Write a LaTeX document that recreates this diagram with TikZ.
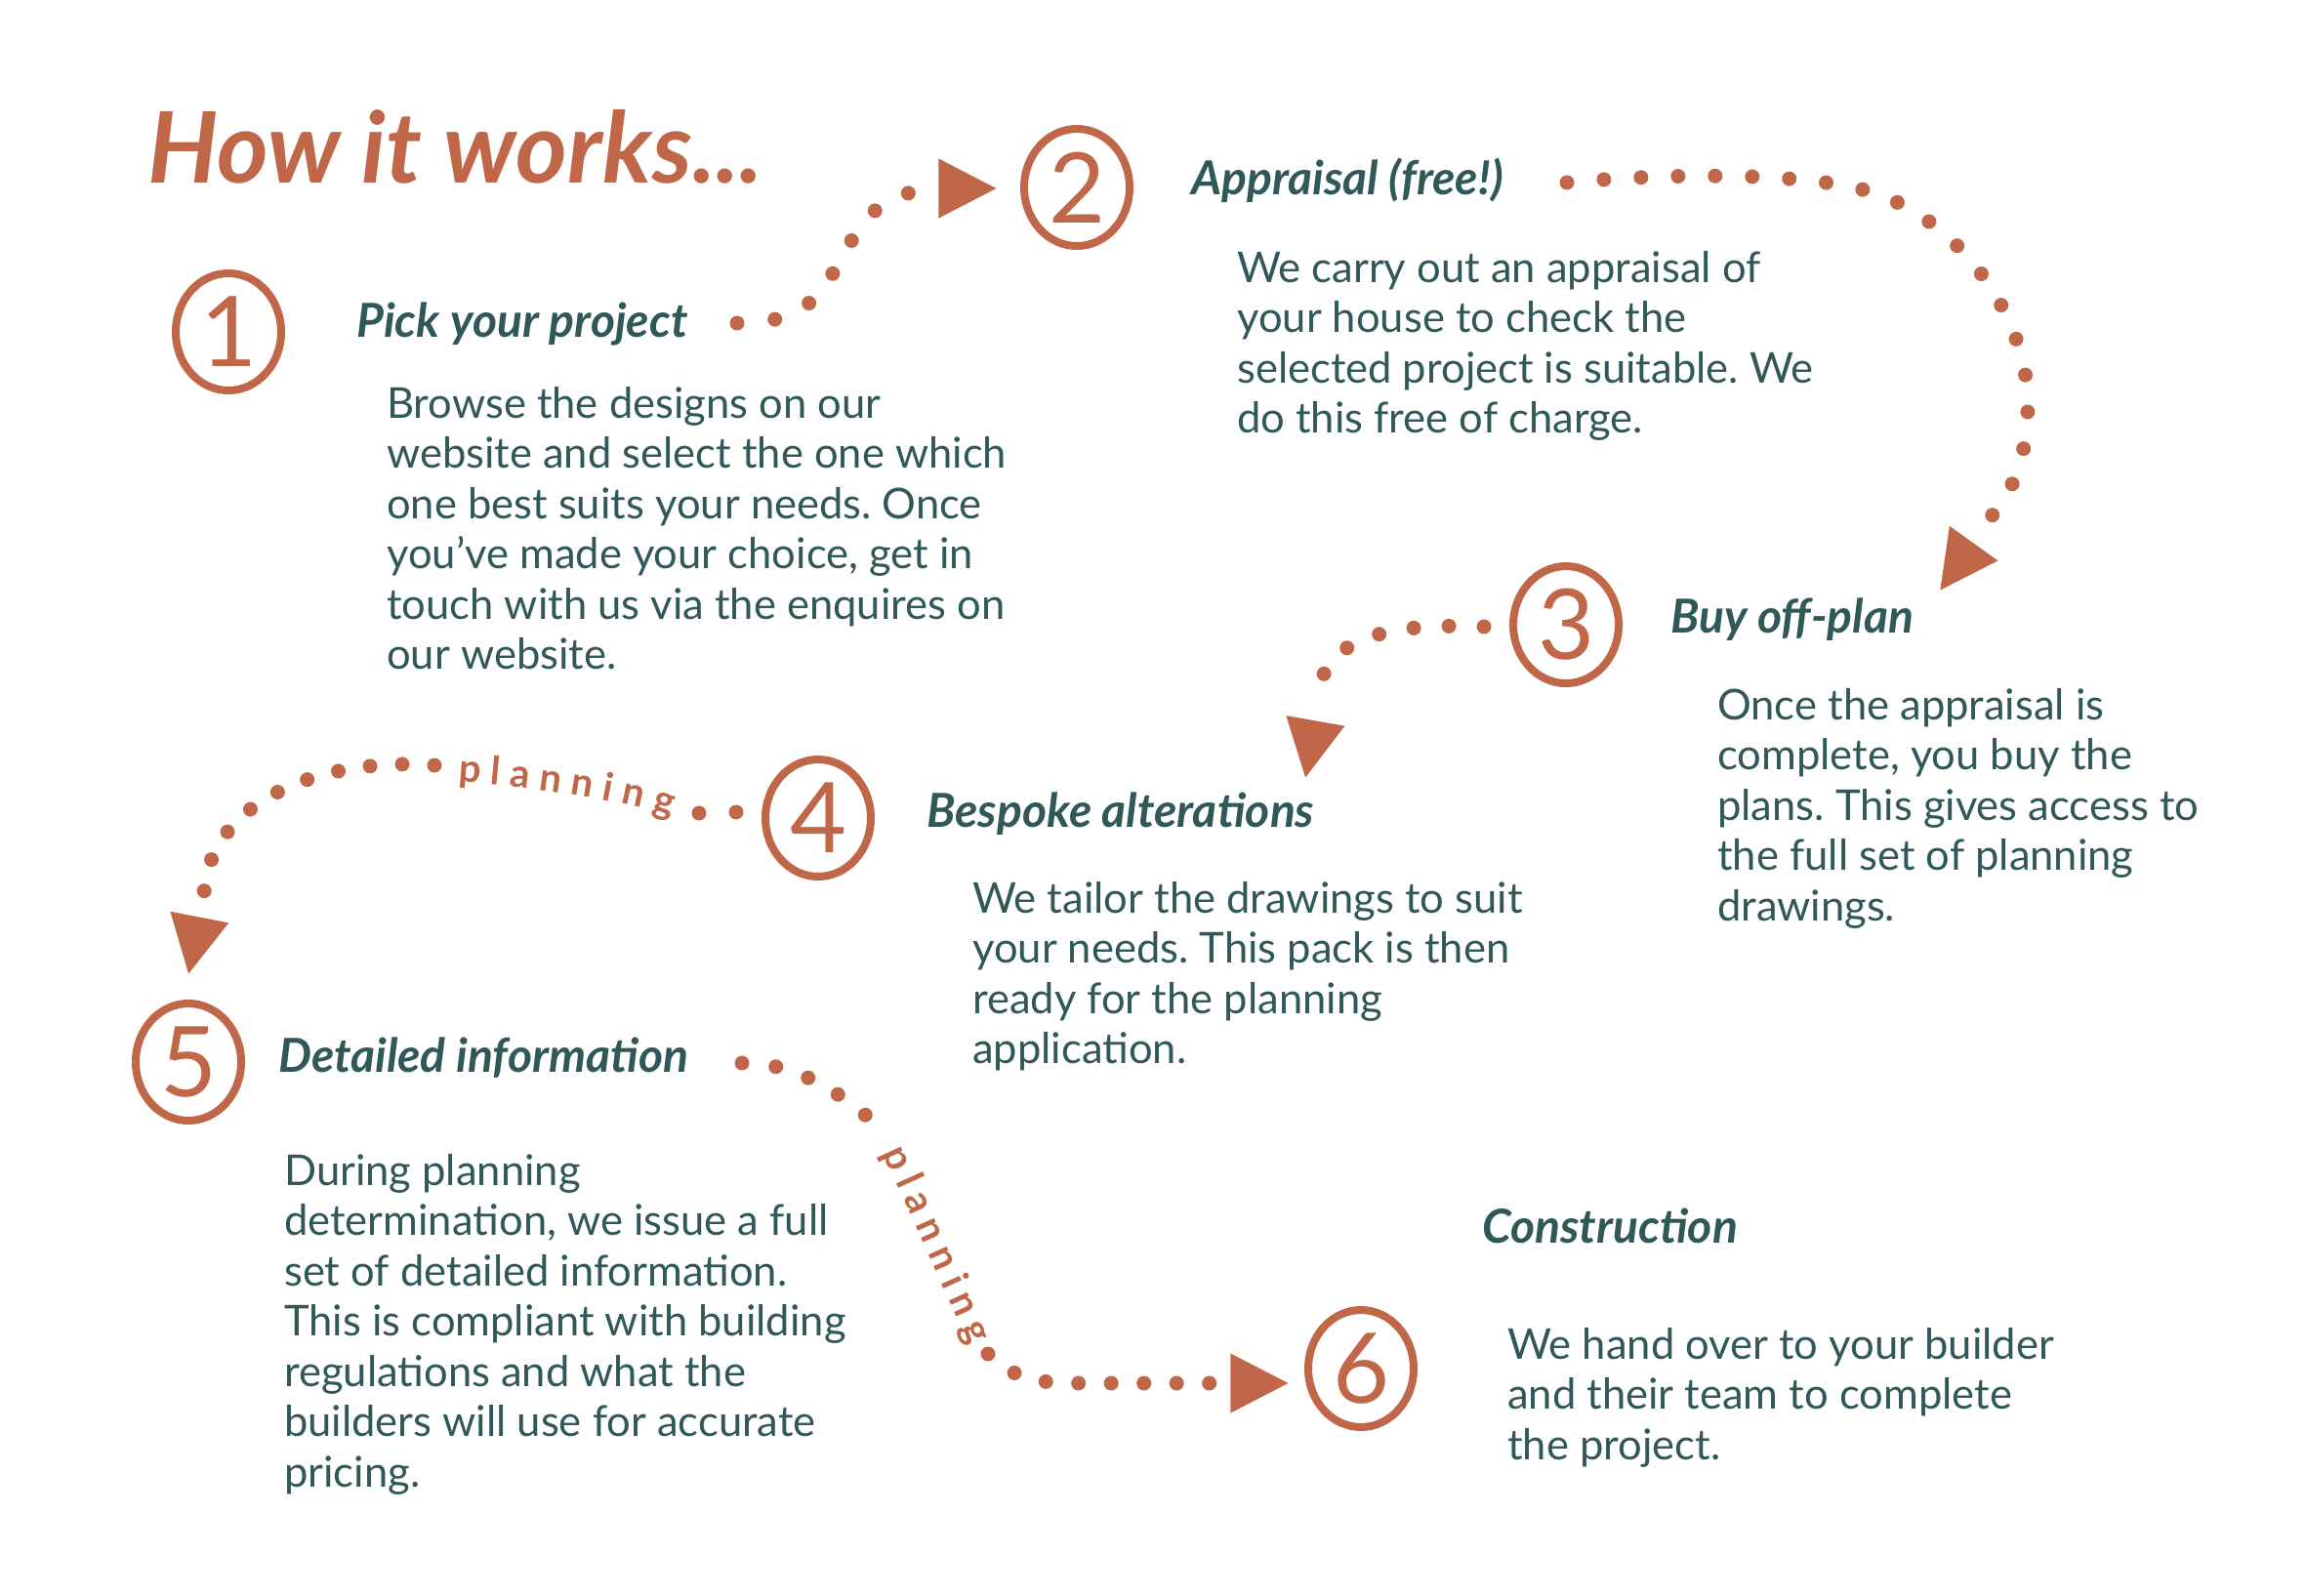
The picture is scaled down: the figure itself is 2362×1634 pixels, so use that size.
\documentclass[tikz,border=0pt]{standalone}
\usepackage{fontspec}
\setmainfont{Lato}
\newfontfamily\plfont{Lato}
\usetikzlibrary{shapes.geometric,decorations.text}
\definecolor{rust}{HTML}{BF6748}
\definecolor{deepteal}{HTML}{305858}
\frenchspacing
\begin{document}
\begin{tikzpicture}[x=1pt,y=-1pt,
  ring/.style={draw=rust, line width=8pt, ellipse, minimum width=108pt, minimum height=120pt, inner sep=0pt, text=rust, font=\fontsize{100}{100}\selectfont},
  head/.style={anchor=base west, inner sep=0pt, text=deepteal, font=\fontsize{48}{50}\selectfont\bfseries\itshape},
  body/.style={anchor=base west, inner sep=0pt, text=deepteal, align=left, font=\fontsize{43.5}{51.5}\selectfont},
  dotline/.style={draw=rust, line width=15pt, line cap=round, dash pattern=on 0pt off #1pt},
  dotline/.default=37,
  tri/.style={isosceles triangle, isosceles triangle stretches, fill=rust, inner sep=0pt, minimum width=61pt, minimum height=59pt, anchor=apex},
  plan/.style={decorate, decoration={text along path, text={|\plfont\bfseries\fontsize{40}{40}\selectfont|planning}, text align=fit to path, text color=rust, raise=-10pt}}
]
\fill[white] (0,0) rectangle (2362,1634);
\useasboundingbox (0,0) rectangle (2362,1634);

% title
\node[anchor=base west, inner sep=0pt, text=rust, font=\fontsize{101}{105}\selectfont\bfseries\itshape] (title) at (151,187) {How it works...};

% numbered rings
\node[ring] (c1) at (234,340) {1};
\node[ring] (c2) at (1103,192) {2};
\node[ring] (c3) at (1604,640) {3};
\node[ring] (c4) at (838,838) {4};
\node[ring] (c5) at (193,1088) {5};
\node[ring] (c6) at (1394,1402) {6};

% headings
\node[head] (h1) at (365,345) {Pick your project};
\node[head] (h2) at (1220,199) {Appraisal (free!)};
\node[head] (h3) at (1711,648) {Buy off-plan};
\node[head] (h4) at (949,847) {Bespoke alterations};
\node[head] (h5) at (285,1098) {Detailed information};
\node[head] (h6) at (1518,1273) {Construction};

% body texts (anchored at the baseline of their last line)
\node[body] (b1) at (396,685.5) {Browse the designs on our\\website and select the one which\\one best suits your needs. Once\\you’ve made your choice, get in\\touch with us via the enquires on\\our website.};
\node[body] (b2) at (1267,443.5) {We carry out an appraisal of\\your house to check the\\selected project is suitable. We\\do this free of charge.};
\node[body] (b3) at (1759,943) {Once the appraisal is\\complete, you buy the\\plans. This gives access to\\the full set of planning\\drawings.};
\node[body] (b4) at (996,1089.5) {We tailor the drawings to suit\\your needs. This pack is then\\ready for the planning\\application.};
\node[body] (b5) at (291,1523) {During planning\\determination, we issue a full\\set of detailed information.\\This is compliant with building\\regulations and what the\\builders will use for accurate\\pricing.};
\node[body] (b6) at (1544,1495) {We hand over to your builder\\and their team to complete\\the project.};

% arrowheads
\node[tri] (ta) at (1021,193) {};
\node[tri, rotate=-125.6] (tb) at (1987,605) {};
\node[tri, rotate=-100] (tc) at (1337,797) {};
\node[tri, rotate=-101] (td) at (193,998) {};
\node[tri] (te) at (1320,1417) {};

% connector coordinates
\coordinate (a0) at (755,331);
\coordinate (a1) at (935,197);
\coordinate (bb0) at (1605,187);
\coordinate (bb1) at (2032,537);
\coordinate (cc0) at (1520,642);
\coordinate (cc1) at (1350,720);
\coordinate (d0) at (754,832);
\coordinate (d1) at (716,833);
\coordinate (dt0) at (470,791);
\coordinate (dt1) at (690,826);
\coordinate (d2) at (445,784);
\coordinate (d3) at (209,915);
\coordinate (e0) at (760,1089);
\coordinate (e1) at (908,1162);
\coordinate (et0) at (913,1177);
\coordinate (et1) at (1002,1375);
\coordinate (e2) at (1012,1387);
\coordinate (e3) at (1248,1417);

% 1 -> 2
\draw[dotline=39] (a0) .. controls (800,331) and (825,320) .. (845,293) .. controls (870,255) and (885,205) .. (a1);
% 2 -> 3
\draw[dotline=38] (bb0) .. controls (1700,178) and (1830,176) .. (1903,193) .. controls (2000,215) and (2077,320) .. (2077,414) .. controls (2077,470) and (2060,510) .. (bb1);
% 3 -> 4
\draw[dotline=36] (cc0) .. controls (1430,638) and (1350,650) .. (cc1);
% 4 -> 5
\draw[dotline=38] (d1) -- (d0);
\path[plan] (dt0) .. controls (540,796) and (620,806) .. (dt1);
\draw[dotline=33] (d2) .. controls (330,775) and (215,820) .. (d3);
% 5 -> 6
\draw[dotline=35] (e0) .. controls (810,1088) and (860,1115) .. (e1);
\path[plan] (et0) .. controls (940,1235) and (970,1305) .. (et1);
\draw[dotline=33.5] (e2) .. controls (1035,1410) and (1060,1417) .. (1100,1417) -- (e3);
\end{tikzpicture}
\end{document}
